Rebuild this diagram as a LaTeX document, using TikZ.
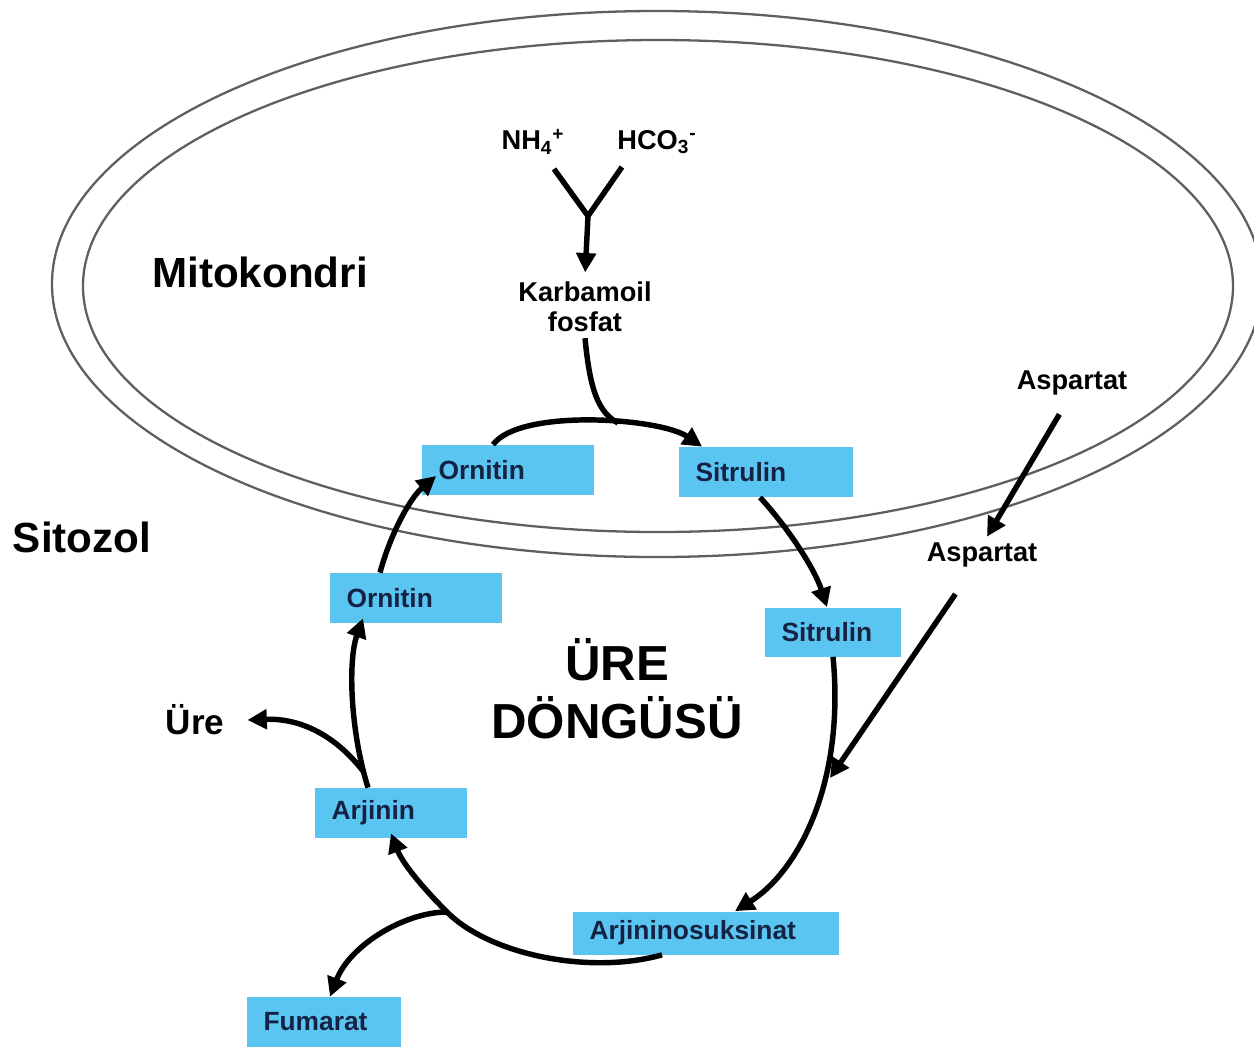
\documentclass[tikz,border=0pt]{standalone}
\usepackage{fontspec}
\setmainfont{Liberation Sans}
\usepackage{xcolor}
\usetikzlibrary{arrows.meta}
\definecolor{boxblue}{RGB}{91,197,242}
\definecolor{boxtext}{RGB}{22,34,68}
\definecolor{membr}{RGB}{95,95,95}

\begin{document}
\begin{tikzpicture}[x=0.02cm, y=-0.02cm,
  box/.style={fill=boxblue, text=boxtext, font=\fontsize{15}{17}\selectfont\bfseries, align=left, inner xsep=0.34cm, inner ysep=0pt, minimum height=1cm},
  lbl/.style={font=\fontsize{15.5}{17}\selectfont\bfseries, align=center},
  big/.style={font=\fontsize{24}{28}\selectfont\bfseries},
  flow/.style={line width=3.1pt, -{Triangle[length=11pt,width=11pt]}},
  membrane/.style={draw=membr, line width=1.3pt}]
\useasboundingbox (0,0) rectangle (1254,1046);
% mitochondrion
\draw[membrane] (657,284) ellipse [x radius=605, y radius=273];
\draw[membrane] (658,286) ellipse [x radius=575, y radius=246];
\node[big] (mito) at (260,272) {Mitokondri};
\node[big] (sito) at (82,537) {Sitozol};
\node[font=\fontsize{28}{33}\selectfont\bfseries, align=center] (cycle) at (617,689) {ÜRE\\DÖNGÜSÜ};
\node[font=\fontsize{20}{24}\selectfont\bfseries] (ure) at (195,720) {Üre};
\node[lbl] (nh4) at (533,142) {NH\textsubscript{4}\textsuperscript{+}};
\node[lbl] (hco3) at (657,142) {HCO\textsubscript{3}\textsuperscript{-}};
\node[lbl] (karb) at (585,307) {Karbamoil\\fosfat};
\node[lbl] (asp1) at (1072,383) {Aspartat};
\node[lbl] (asp2) at (982,555) {Aspartat};
% metabolites
\node[box, text width=2.78cm] (orn1) at (508,470) {Ornitin};
\node[box, text width=2.82cm] (sit1) at (766,472) {Sitrulin};
\node[box, text width=2.78cm] (orn2) at (416,598) {Ornitin};
\node[box, text width=2.06cm, minimum height=0.98cm] (sit2) at (833,632) {Sitrulin};
\node[box, text width=2.38cm] (arj) at (391,813) {Arjinin};
\node[box, text width=4.66cm, minimum height=0.86cm] (arjs) at (706,933) {Arjininosuksinat};
\node[box, text width=2.42cm] (fum) at (324,1022) {Fumarat};
% carbamoyl phosphate
\coordinate (ya) at (554,169);
\coordinate (yb) at (622,167);
\coordinate (yj) at (588,216);
\coordinate (kj) at (618,423);
\draw[line width=3.1pt] (ya) -- (yj) -- (yb);
\draw[flow, shorten >=2pt] (yj) -- (karb.north);
\draw[line width=3.1pt] (karb.south) .. controls (590,390) and (598,412) .. (kj);
% cycle
\draw[flow] ([xshift=-0.3cm]orn1.north) .. controls (520,408) and (660,418) .. ([xshift=0.48cm]sit1.north west);
\draw[flow] ([xshift=-0.12cm]sit1.south) .. controls (790,530) and (815,570) .. ([xshift=-0.12cm]sit2.north);
\draw[flow] (sit2.south) .. controls (845,780) and (800,870) .. ([xshift=0.58cm]arjs.north);
\coordinate (aj) at (830,778);
\draw[flow, shorten <=0.3cm] ([xshift=-0.1cm]asp1.south) -- ([xshift=0.1cm]asp2.north);
\draw[flow, shorten <=0.5cm] (asp2) -- (aj);
\coordinate (fbr) at (447,912);
\draw[flow] ([xshift=-0.88cm]arjs.south) .. controls (590,975) and (490,955) .. (fbr) .. controls (420,885) and (402,862) .. ([yshift=0.1cm]arj.south);
\draw[flow] (fbr) .. controls (405,912) and (350,945) .. ([xshift=0.12cm]fum.north);
\coordinate (ubr) at (363,771);
\draw[flow] ([xshift=-0.46cm]arj.north) .. controls (350,730) and (348,660) .. ([xshift=-1.06cm,yshift=0.1cm]orn2.south);
\draw[flow] (ubr) .. controls (335,735) and (300,718) .. ([xshift=0.34cm]ure.east);
\draw[flow] ([xshift=-0.72cm]orn2.north) .. controls (390,535) and (410,498) .. ([xshift=0.3cm,yshift=-0.12cm]orn1.west);
\end{tikzpicture}
\end{document}
